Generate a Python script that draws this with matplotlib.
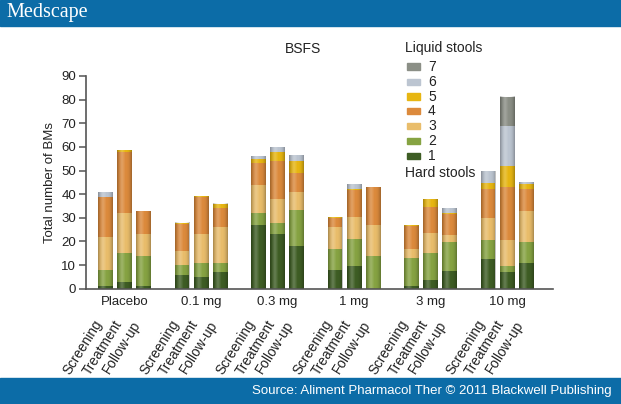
import matplotlib
matplotlib.use("Agg")
import matplotlib.pyplot as plt
from matplotlib.patches import Rectangle
import numpy as np

plt.rcParams['font.family'] = ['Liberation Sans', 'DejaVu Sans']

groups = ["Placebo", "0.1 mg", "0.3 mg", "1 mg", "3 mg", "10 mg"]
phases = ["Screening", "Treatment", "Follow-up"]

# BSFS category counts, order: per group (Screening, Treatment, Follow-up)
bsfs1 = [1, 3, 1,   6, 5, 7,   27, 23, 18,   8, 9.6, 0,    1, 3.7, 7.6,   12.4, 7, 10.8]
bsfs2 = [7, 12, 13, 4, 6, 4,   5, 5, 15.5,   9, 11.4, 14,  12, 11.3, 12.3, 8.2, 2.8, 8.9]
bsfs3 = [14, 17, 9, 6, 12, 15, 12, 10, 7.5,  9, 9.5, 13,   4, 8.7, 2.9,   9.2, 10.9, 13.2]
bsfs4 = [17, 26, 10, 11.5, 16, 8, 9, 16, 8,  4, 11.3, 16,  9.5, 11, 8.9,  12.4, 22.2, 9.1]
bsfs5 = [0, 0.5, 0, 0.5, 0.3, 2, 2, 4, 5,    0.3, 0.4, 0,  0.3, 3.2, 0.5, 2.7, 8.9, 2.4]
bsfs6 = [2, 0, 0,   0, 0, 0,   1, 2, 2.5,    0, 2, 0,      0, 0, 2,       5, 17, 0.8]
bsfs7 = [0, 0, 0,   0, 0, 0,   0, 0, 0,      0, 0, 0,      0, 0, 0,       0, 12.5, 0]

series = [bsfs1, bsfs2, bsfs3, bsfs4, bsfs5, bsfs6, bsfs7]
labels = ["1", "2", "3", "4", "5", "6", "7"]
colors = ["#3e5d24", "#86a342", "#e9bd6b", "#dc8a3c", "#e7b612", "#bcc5d1", "#8b8f86"]

yticks = [0, 10, 20, 30, 40, 50, 60, 70, 80, 90]

W, H = 621, 404
fig = plt.figure(figsize=(W / 100, H / 100), dpi=100)

def fx(px):
    return px / W

def fy(py):
    return 1 - py / H

# header / footer bands
blue = "#0c6ca7"
fig.add_artist(Rectangle((0, fy(26)), 1, 26 / H, transform=fig.transFigure, color=blue, zorder=0))
fig.add_artist(Rectangle((0, 0), 1, 26 / H, transform=fig.transFigure, color=blue, zorder=0))
fig.text(fx(6), fy(13), "Medscape", color="white", fontsize=14.5, family=["Liberation Serif", "DejaVu Serif"],
         va="center", ha="left")
fig.text(fx(612), fy(391), "Source: Aliment Pharmacol Ther \u00a9 2011 Blackwell Publishing", color="white",
         fontsize=9.5, va="center", ha="right")

ax = fig.add_axes([fx(86), fy(288.7), fx(553) - fx(86), (288.7 - 76) / H])

pos = []
for g in range(len(groups)):
    for p in range(len(phases)):
        pos.append(g * 4 + p)
pos = np.array(pos, dtype=float)

bw = 0.78
bottom = np.zeros(len(pos))
for vals, c in zip(series, colors):
    v = np.array(vals, dtype=float)
    ax.bar(pos, v, width=bw, bottom=bottom, color=c, edgecolor="none", zorder=2)
    bottom += v

# cylindrical shading overlay (derived from bar geometry)
t = np.linspace(-1, 1, 40)
shade = np.zeros((1, 40, 4))
dark = np.clip(np.abs(t) ** 3, 0, 1) * 0.28
light = np.clip(1 - np.abs(t + 0.35) / 0.5, 0, 1) * 0.22
shade[0, :, 3] = dark + light
shade[0, :, 0:3] = (light / np.maximum(dark + light, 1e-6))[:, None]
for x, top in zip(pos, bottom):
    ax.imshow(shade, extent=(x - bw / 2, x + bw / 2, 0, top), aspect="auto", zorder=3,
              interpolation="bilinear")

ax.set_xlim(-1.02, 23.4)
ax.set_ylim(0, 90)
ax.set_yticks(yticks)
ax.set_yticklabels([str(t) for t in yticks], fontsize=9.5, color="#222222")
ax.set_xticks([])
for s in ["top", "right"]:
    ax.spines[s].set_visible(False)
for s in ["left", "bottom"]:
    ax.spines[s].set_color("#555555")
    ax.spines[s].set_linewidth(1.2)
    ax.spines[s].set_zorder(5)
ax.tick_params(axis="y", length=5, width=1.1, color="#555555", pad=2)
ax.set_ylabel("Total number of BMs", fontsize=9.5, color="#222222", labelpad=4)

# group labels
for g, name in enumerate(groups):
    ax.text(g * 4 + 1, -3.3, name, ha="center", va="top", fontsize=9.5, color="#222222",
            transform=ax.transData, clip_on=False)

# rotated phase labels
for i, x in enumerate(pos):
    ax.text(x - 0.62, -12.3, phases[i % 3], ha="right", va="top", rotation=58,
            rotation_mode="anchor", fontsize=9.8, color="#222222", clip_on=False)

# title and legend
fig.text(fx(303), fy(49), "BSFS", ha="center", va="center", fontsize=10, color="#222222")
fig.text(fx(405), fy(48), "Liquid stools", ha="left", va="center", fontsize=10, color="#222222")
ys = [66.7, 82, 96.7, 111, 126, 141, 156]
for k, yy in zip(range(6, -1, -1), ys):
    fig.add_artist(Rectangle((fx(406.5), fy(yy + 3.3)), 13 / W, 6.6 / H, transform=fig.transFigure,
                             color=colors[k], zorder=3))
    fig.text(fx(428), fy(yy), labels[k], ha="left", va="center", fontsize=10, color="#222222")
fig.text(fx(405), fy(172.5), "Hard stools", ha="left", va="center", fontsize=10, color="#222222")

fig.savefig("out.png", dpi=100)
